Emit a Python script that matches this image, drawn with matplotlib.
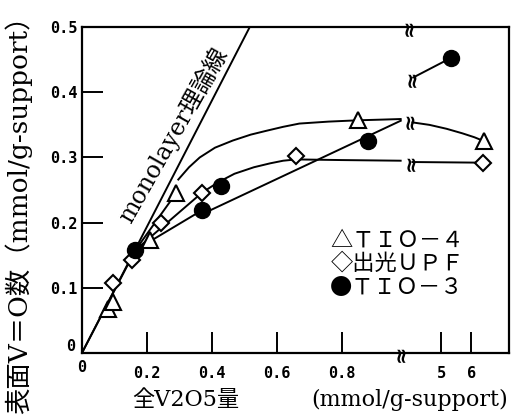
import numpy as np
import matplotlib
matplotlib.use("Agg")
import matplotlib.pyplot as plt

plt.rcParams['font.family'] = ['DejaVu Serif', 'Noto Sans CJK JP']

# ---------------- data ----------------
tio4_x = [0.08, 0.095, 0.21, 0.29, 0.85, 6.42]
tio4_y = [0.068, 0.078, 0.173, 0.245, 0.357, 0.325]

upf_x = [0.095, 0.155, 0.245, 0.37, 0.66, 6.38]
upf_y = [0.107, 0.142, 0.199, 0.246, 0.303, 0.292]

tio3_x = [0.165, 0.37, 0.43, 0.88, 5.33]
tio3_y = [0.158, 0.219, 0.256, 0.325, 0.453]

mono_x = [0.0, 0.517]
mono_y = [0.0, 0.5]

base_x = [0.0, 0.165]
base_y = [0.0, 0.158]

fan4_x = [0.165, 0.29]
fan4_y = [0.158, 0.245]
fanu_x = [0.165, 0.37]
fanu_y = [0.158, 0.246]
fan3_x = [0.165, 0.37]
fan3_y = [0.158, 0.219]

curve4_left_x = [0.295, 0.33, 0.363, 0.41, 0.465, 0.52, 0.569, 0.62, 0.67, 0.76, 0.85, 0.92, 0.99]
curve4_left_y = [0.265, 0.285, 0.300, 0.315, 0.326, 0.335, 0.341, 0.347, 0.352, 0.355, 0.357, 0.358, 0.359]
curve4_right_x = [4.0, 4.6, 5.17, 5.7, 6.1, 6.42]
curve4_right_y = [0.354, 0.350, 0.344, 0.337, 0.331, 0.325]

curveu_left_x = [0.37, 0.42, 0.47, 0.53, 0.58, 0.62, 0.66, 0.80, 0.99]
curveu_left_y = [0.246, 0.262, 0.275, 0.285, 0.291, 0.295, 0.297, 0.296, 0.295]
curveu_right_x = [4.0, 6.38]
curveu_right_y = [0.293, 0.292]

line3_left_x = [0.37, 0.99]
line3_left_y = [0.213, 0.357]
line3_right_x = [4.03, 5.33]
line3_right_y = [0.422, 0.453]

brk_x = [0.985, 3.93, 3.97, 4.0, 4.03]
brk_y = [0.0, 0.5, 0.357, 0.293, 0.422]

xticks = [0.2, 0.4, 0.6, 0.8, 5, 6]
xtick_labels = ['0.2', '0.4', '0.6', '0.8', '5', '6']
yticks = [0.1, 0.2, 0.3, 0.4, 0.5]
ytick_labels = ['0.1', '0.2', '0.3', '0.4', '0.5']

# --------------- broken x scale ---------------
XP = [-10.0, 0.0, 0.985, 3.87, 100.0]
UP = [-10.0, 0.0, 0.985, 1.0034, 1.1077 + 95 * 0.0923]


def fwd(x):
    return np.interp(x, XP, UP)


def inv(u):
    return np.interp(u, UP, XP)


fig = plt.figure(figsize=(5.12, 4.20), dpi=100)
ax = fig.add_axes([0.160, 0.1595, 0.835, 0.776])
ax.set_xscale('function', functions=(fwd, inv))
ax.set_xlim(0, 7.27)
ax.set_ylim(0, 0.5)

lw = 1.4
k = 'black'
for xs, ys in [(mono_x, mono_y), (base_x, base_y), (fan4_x, fan4_y), (fanu_x, fanu_y),
               (fan3_x, fan3_y), (curve4_left_x, curve4_left_y), (curve4_right_x, curve4_right_y),
               (curveu_left_x, curveu_left_y), (curveu_right_x, curveu_right_y),
               (line3_left_x, line3_left_y), (line3_right_x, line3_right_y)]:
    ax.plot(xs, ys, color=k, lw=lw, zorder=2, solid_capstyle='butt')

ax.plot(tio4_x, tio4_y, ls='none', marker='^', ms=11, mfc='white', mec=k, mew=1.5, zorder=4)
ax.plot(upf_x, upf_y, ls='none', marker='D', ms=8.5, mfc='white', mec=k, mew=1.5, zorder=4)
ax.plot(tio3_x, tio3_y, ls='none', marker='o', ms=11.5, mfc=k, mec=k, zorder=5)

for bx, by in zip(brk_x, brk_y):
    ax.text(bx, by, '≈', rotation=90, ha='center', va='center', fontsize=15,
            family='DejaVu Sans', fontweight='bold', zorder=6, clip_on=False)

for s in ax.spines.values():
    s.set_linewidth(1.6)

ax.set_xticks(xticks)
ax.set_xticklabels(xtick_labels)
ax.set_yticks(yticks)
ax.set_yticklabels(ytick_labels)
ax.tick_params(axis='x', direction='in', length=15, width=1.4, pad=9)
ax.tick_params(axis='y', direction='in', length=15, width=1.4, pad=3)
for lab in ax.get_xticklabels() + ax.get_yticklabels():
    lab.set_family('DejaVu Sans Mono')
    lab.set_fontweight('bold')
    lab.set_fontsize(11)

# zero labels
ax.text(-0.015, 0.02, '0', transform=ax.transAxes, ha='right', va='center',
        family='DejaVu Sans Mono', fontweight='bold', fontsize=11)
ax.text(0.0, -0.045, '0', transform=ax.transAxes, ha='center', va='center',
        family='DejaVu Sans Mono', fontweight='bold', fontsize=11)

# monolayer label
ax.text(0.28, 0.335, 'monolayer理論線', rotation=60.5, ha='center', va='center',
        fontsize=17, rotation_mode='anchor')

# legend text
legend_lines = ['△ＴＩＯ－４', '◇出光ＵＰＦ', '●ＴＩＯ－３']
for i, t in enumerate(legend_lines):
    fig.text(0.645, 1 - (240 + 23.5 * i) / 420, t, ha='left', va='center', fontsize=16,
             family=['Noto Sans CJK JP', 'DejaVu Sans'])

fig.text(0.036, 0.503, '表面V＝O数（mmol/g-support）', rotation=90, ha='center', va='center',
         fontsize=19)
fig.text(0.362, 0.047, '全V2O5量', ha='center', va='center', fontsize=16)
fig.text(0.80, 0.047, '(mmol/g-support)', ha='center', va='center', fontsize=16)

fig.savefig('out.png', dpi=100)
